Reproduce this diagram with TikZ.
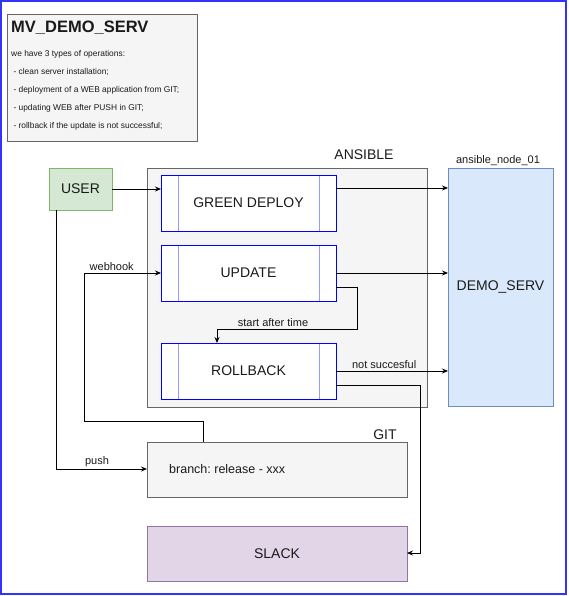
\documentclass[tikz,border=0pt]{standalone}
\usepackage{fontspec}
\setmainfont{Liberation Sans}
\usetikzlibrary{arrows.meta}
\frenchspacing
\definecolor{grayfill}{HTML}{F5F5F5}
\definecolor{graystroke}{HTML}{666666}
\definecolor{greenfill}{HTML}{D5E8D4}
\definecolor{greenstroke}{HTML}{82B366}
\definecolor{bluefill}{HTML}{DAE8FC}
\definecolor{bluestroke}{HTML}{6C8EBF}
\definecolor{purplefill}{HTML}{E1D5E7}
\definecolor{purplestroke}{HTML}{9673A6}
\definecolor{procblue}{HTML}{0000FF}
\definecolor{proclight}{HTML}{9999FF}
\definecolor{framecol}{HTML}{3333FF}
\definecolor{txt}{HTML}{1A1A1A}
\tikzset{
  base/.style={draw, inner sep=0pt, outer sep=0pt, text=txt},
  graybox/.style={base, fill=grayfill, draw=graystroke},
  greenbox/.style={base, fill=greenfill, draw=greenstroke, font=\fontsize{14}{16}\selectfont},
  bluebox/.style={base, fill=bluefill, draw=bluestroke, font=\fontsize{14}{16}\selectfont},
  purplebox/.style={base, fill=purplefill, draw=purplestroke, font=\fontsize{14}{16}\selectfont},
  procbox/.style={base, fill=white, draw=procblue, font=\fontsize{14}{16}\selectfont},
  procline/.style={draw=proclight, line width=1pt},
  lbl/.style={inner sep=0pt, text=txt},
  small/.style={lbl, font=\fontsize{11}{13}\selectfont},
  tiny/.style={lbl, font=\fontsize{8.4}{10}\selectfont, anchor=west},
  conn/.style={draw=black, line width=0.8pt, -{Stealth[length=6pt,width=5pt,inset=2pt]}},
}
\begin{document}
\begin{tikzpicture}[x=1pt,y=-1pt]
\useasboundingbox (0,0) rectangle (568,596);
\draw[framecol, line width=2pt] (1,1) rectangle (566,594);

% title box
\node[graybox, minimum width=190, minimum height=127] (title) at (102,77.5) {};
\node[lbl, anchor=west, font=\bfseries\fontsize{16.5}{18}\selectfont] (tt) at (11,28) {MV\_DEMO\_SERV};
\node[tiny] (t1) at (11,54) {we have 3 types of operations:};
\node[tiny] (t2) at (11,72) {\ - clean server installation;};
\node[tiny] (t3) at (11,90) {\ - deployment of a WEB application from GIT;};
\node[tiny] (t4) at (11,108) {\ - updating WEB after PUSH in GIT;};
\node[tiny] (t5) at (11,126) {\ - rollback if the update is not successful;};

% user
\node[greenbox, minimum width=63, minimum height=42] (user) at (80.5,189) {USER};

% ansible container
\node[graybox, minimum width=280, minimum height=239] (ans) at (287,287.5) {};
\node[lbl, font=\fontsize{14}{16}\selectfont] (anslbl) at (364,155) {ANSIBLE};

% process boxes
\node[procbox, minimum width=175, minimum height=56] (gd) at (248.5,203) {GREEN DEPLOY};
\node[procbox, minimum width=175, minimum height=56] (up) at (248.5,273) {UPDATE};
\node[procbox, minimum width=175, minimum height=56] (rb) at (248.5,371) {ROLLBACK};
\foreach \n in {gd,up,rb}{
  \draw[procline] ([xshift=17pt]\n.north west) -- ([xshift=17pt]\n.south west);
  \draw[procline] ([xshift=-17pt]\n.north east) -- ([xshift=-17pt]\n.south east);
  \draw[procblue, line width=0.8pt] (\n.north west) rectangle (\n.south east);
}

% demo serv
\node[bluebox, minimum width=105, minimum height=238] (ds) at (500.5,287) {DEMO\_SERV};
\node[small] (dslbl) at (498,161) {ansible\_node\_01};

% git
\node[graybox, minimum width=260, minimum height=55] (git) at (277,469.5) {};
\node[lbl, anchor=west, font=\fontsize{12.5}{14}\selectfont] (gittxt) at (169,469) {branch: release - xxx};
\node[lbl, font=\fontsize{14}{16}\selectfont] (gitlbl) at (385,435) {GIT};

% slack
\node[purplebox, minimum width=260, minimum height=55] (slack) at (277,553.5) {SLACK};

% coordinates
\coordinate (whA) at (203,421);
\coordinate (whB) at (84,421);
\coordinate (whC) at (84,273);
\coordinate (pA) at (56,469);
\coordinate (saA) at (357,287);
\coordinate (saB) at (357,329);
\coordinate (saC) at (217,329);
\coordinate (skA) at (420,385);
\coordinate (skB) at (420,553);

% connectors
\draw[conn] (user.east |- 0,189) -- (gd.west |- 0,189);
\draw[conn] (gd.east |- 0,188) -- (ds.west |- 0,188);
\draw[conn] (up.east |- 0,273) -- (ds.west |- 0,273);
\draw[conn] (rb.east |- 0,371) -- node[small, pos=0.43, above=2pt] (nslbl) {not succesful} (ds.west |- 0,371);
\draw[conn] (git.north -| whA) -- (whA) -- (whB) -- (whC) -- node[small, pos=0.36, above=2pt] (whlbl) {webhook} (up.west |- whC);
\draw[conn] (user.south -| pA) -- (pA) -- node[small, pos=0.45, above=2pt] (plbl) {push} (git.west |- pA);
\draw[conn] (up.east |- saA) -- (saA) -- (saB) -- node[small, pos=0.6, above=2pt] (salbl) {start after time} (saC) -- (rb.north -| saC);
\draw[conn] (rb.east |- skA) -- (skA) -- (skB) -- (slack.east |- skB);
\end{tikzpicture}
\end{document}
